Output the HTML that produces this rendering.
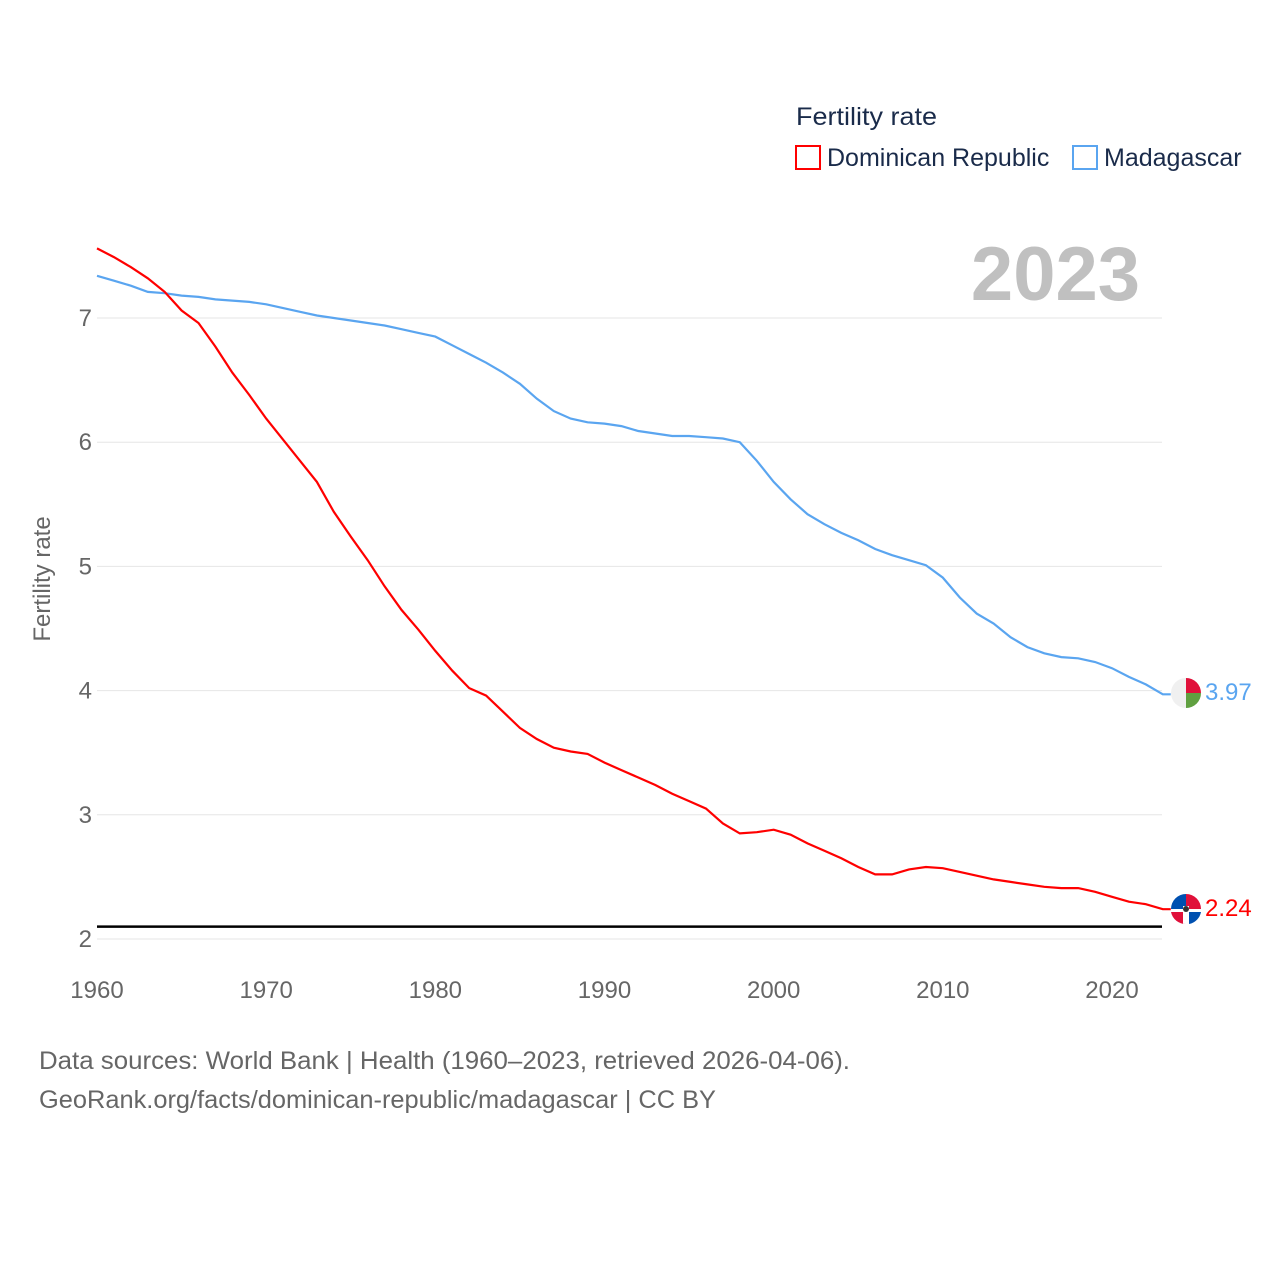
<!DOCTYPE html>
<html><head><meta charset="utf-8">
<style>
html,body{margin:0;padding:0;background:#fff;}
body{width:1280px;height:1280px;position:relative;overflow:hidden;font-family:"Liberation Sans",sans-serif;}
</style></head>
<body>
<svg id="chart" width="1280" height="1280" xmlns="http://www.w3.org/2000/svg" font-family="Liberation Sans, sans-serif">
  <g id="grid"></g>
  <g id="yticks"></g>
  <g id="xticks"></g>
  <text x="0" y="0" transform="translate(50,579) rotate(-90)" text-anchor="middle" font-size="24" fill="#666">Fertility rate</text>
  <text x="1140" y="300" text-anchor="end" font-size="76" font-weight="bold" fill="#c0c0c0">2023</text>
  <g>
    <text x="796" y="125" font-size="25" fill="#1a2b4a" textLength="141" lengthAdjust="spacingAndGlyphs">Fertility rate</text>
    <rect x="796" y="146" width="24" height="23" fill="none" stroke="#ff0000" stroke-width="2"/>
    <text x="827" y="166" font-size="25" fill="#1a2b4a">Dominican Republic</text>
    <rect x="1073" y="146" width="24" height="23" fill="none" stroke="#5aa5f0" stroke-width="2"/>
    <text x="1104" y="166" font-size="25" fill="#1a2b4a">Madagascar</text>
  </g>
  <line id="refline" stroke="#000" stroke-width="2.5"/>
  <path id="blue" fill="none" stroke="#5aa5f0" stroke-width="2.2"/>
  <path id="red" fill="none" stroke="#ff0000" stroke-width="2.2"/>
  <g>
    <circle cx="1186" cy="693" r="15" fill="#f0f0f0"/>
    <path d="M1186 678 A15 15 0 0 1 1201 693 L1186 693 Z" fill="#e0103a"/>
    <path d="M1186 693 L1201 693 A15 15 0 0 1 1186 708 Z" fill="#60a040"/>
  </g>
  <text x="1205" y="700" font-size="24" fill="#5aa5f0">3.97</text>
  <g>
    <circle cx="1186" cy="909" r="15" fill="#fff"/>
    <path d="M1186 894 A15 15 0 0 0 1171 909 L1183 909 L1183 906 L1186 906 Z" fill="#0050b0"/>
    <path d="M1186 894 A15 15 0 0 1 1201 909 L1189 909 L1189 906 L1186 906 Z" fill="#e0103a"/>
    <path d="M1171 912 A15 15 0 0 0 1186 924 L1183 924 L1183 912 Z" fill="#e0103a"/>
    <path d="M1189 912 L1201 912 A15 15 0 0 1 1189 924 Z" fill="#0050b0"/>
    <circle cx="1186" cy="909" r="3" fill="#333"/>
  </g>
  <text x="1205" y="916" font-size="24" fill="#ff0000">2.24</text>
  <text x="39" y="1069" font-size="25" fill="#666" textLength="811" lengthAdjust="spacingAndGlyphs">Data sources: World Bank | Health (1960–2023, retrieved 2026-04-06).</text>
  <text x="39" y="1108" font-size="25" fill="#666" textLength="677" lengthAdjust="spacingAndGlyphs">GeoRank.org/facts/dominican-republic/madagascar | CC BY</text>
</svg>
<script>
const years = [];
for (let y = 1960; y <= 2023; y++) years.push(y);
const dominicanRepublic = [7.56,7.49,7.41,7.32,7.21,7.06,6.96,6.77,6.56,6.38,6.19,6.02,5.85,5.68,5.44,5.24,5.05,4.84,4.65,4.49,4.32,4.16,4.02,3.96,3.83,3.70,3.61,3.54,3.51,3.49,3.42,3.36,3.30,3.24,3.17,3.11,3.05,2.93,2.85,2.86,2.88,2.84,2.77,2.71,2.65,2.58,2.52,2.52,2.56,2.58,2.57,2.54,2.51,2.48,2.46,2.44,2.42,2.41,2.41,2.38,2.34,2.30,2.28,2.24];
const madagascar = [7.34,7.30,7.26,7.21,7.20,7.18,7.17,7.15,7.14,7.13,7.11,7.08,7.05,7.02,7.00,6.98,6.96,6.94,6.91,6.88,6.85,6.78,6.71,6.64,6.56,6.47,6.35,6.25,6.19,6.16,6.15,6.13,6.09,6.07,6.05,6.05,6.04,6.03,6.00,5.85,5.68,5.54,5.42,5.34,5.27,5.21,5.14,5.09,5.05,5.01,4.91,4.75,4.62,4.54,4.43,4.35,4.30,4.27,4.26,4.23,4.18,4.11,4.05,3.97];
const yTickValues = [2,3,4,5,6,7];
const xTickValues = [1960,1970,1980,1990,2000,2010,2020];
const replacementRate = 2.1;

const NS = "http://www.w3.org/2000/svg";
const xScale = v => 97 + (v - 1960) * (1112 - 97) / 60;
const yScale = v => 939 - (v - 2) * (939 - 318) / 5;
const X0 = 97, X1 = 1162;

const grid = document.getElementById('grid');
const yt = document.getElementById('yticks');
yTickValues.forEach(v => {
  const l = document.createElementNS(NS, 'line');
  
  
  l.setAttribute('x1', X0); l.setAttribute('x2', X1);
  l.setAttribute('y1', yScale(v)); l.setAttribute('y2', yScale(v));
  l.setAttribute('stroke', '#e6e6e6'); l.setAttribute('stroke-width', '1');
  grid.appendChild(l);
  const t = document.createElementNS(NS, 'text');
  
  
  t.setAttribute('x', 92); t.setAttribute('y', yScale(v) + 8);
  t.setAttribute('text-anchor', 'end'); t.setAttribute('font-size', '24'); t.setAttribute('fill', '#666');
  t.textContent = v;
  yt.appendChild(t);
});
const xt = document.getElementById('xticks');
xTickValues.forEach(v => {
  const t = document.createElementNS(NS, 'text');
  
  
  t.setAttribute('x', xScale(v)); t.setAttribute('y', 998);
  t.setAttribute('text-anchor', 'middle'); t.setAttribute('font-size', '24'); t.setAttribute('fill', '#666');
  t.textContent = v;
  xt.appendChild(t);
});
const rl = document.getElementById('refline');
rl.setAttribute('x1', X0); rl.setAttribute('x2', X1);
rl.setAttribute('y1', yScale(replacementRate)); rl.setAttribute('y2', yScale(replacementRate));

function pathFor(vals) {
  return vals.map((v, i) => (i ? 'L' : 'M') + xScale(years[i]).toFixed(1) + ' ' + yScale(v).toFixed(1)).join(' ');
}
document.getElementById('red').setAttribute('d', pathFor(dominicanRepublic) + ' L' + (xScale(2023)+8) + ' ' + yScale(dominicanRepublic[dominicanRepublic.length-1]).toFixed(1));
document.getElementById('blue').setAttribute('d', pathFor(madagascar) + ' L' + (xScale(2023)+8) + ' ' + yScale(madagascar[madagascar.length-1]).toFixed(1));
</script>
</body></html>
